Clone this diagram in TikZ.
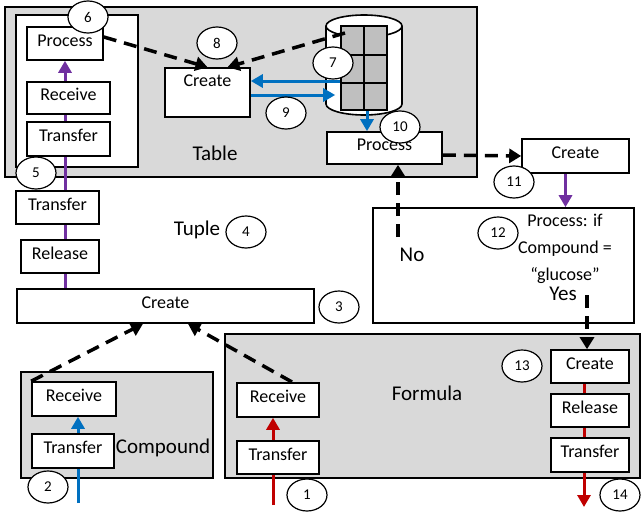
\documentclass[tikz,border=0pt]{standalone}
\usepackage{fontspec}
\setmainfont{Carlito}
\usetikzlibrary{arrows.meta,shapes.geometric}
\pgfdeclarelayer{bg}
\pgfdeclarelayer{lines}
\pgfsetlayers{bg,lines,main}
\definecolor{areagray}{HTML}{D9D9D9}
\definecolor{cellgray}{HTML}{BFBFBF}
\definecolor{flowblue}{HTML}{0070C0}
\definecolor{flowred}{HTML}{C00000}
\definecolor{flowpurple}{HTML}{7030A0}
\tikzset{
 box/.style={draw,line width=1.6pt,fill=white,inner sep=0pt,text height=12pt,text depth=7pt,font=\fontsize{18}{20}\selectfont},
 area/.style={draw,line width=1.6pt,fill=areagray},
 num/.style={draw,ellipse,fill=white,line width=1.2pt,minimum width=40pt,minimum height=32pt,inner sep=0pt,font=\fontsize{15}{15}\selectfont},
 lbl/.style={font=\fontsize{21}{21}\selectfont},
 dasharrow/.style={line width=3.5pt,dash pattern=on 13pt off 8pt,-{Triangle[length=12pt,width=14pt]}},
 flow/.style={line width=3pt,-{Triangle[length=12pt,width=13pt]}}
}
\begin{document}
\begin{tikzpicture}[x=1pt,y=-1pt]
 \useasboundingbox (0,0) rectangle (641,514);
 \begin{pgfonlayer}{bg}
 \draw[area] (5,7) rectangle (477,177);
 \draw[box] (16,15) rectangle (138,167);
 \draw[area] (21,372) rectangle (213,478);
 \draw[area] (225,334) rectangle (640,478);
 \end{pgfonlayer}
 \node[box,minimum width=76pt,minimum height=33pt] (tproc) at (65,43.5) {Process};
 \node[box,minimum width=83pt,minimum height=32pt] (trec) at (68.5,98) {Receive};
 \node[box,minimum width=83pt,minimum height=34pt] (ttra) at (68.5,139) {Transfer};
 \node[box,minimum width=85pt,text height=12pt,text depth=25pt,inner ysep=6pt] (tcre) at (207.5,92.5) {Create};
 \node[box,minimum width=115pt,minimum height=32pt] (tproc2) at (384.5,148) {Process};
 \node[lbl] (tablelbl) at (215,153) {Table};
 \draw[line width=1.6pt,fill=white] (326,26) -- (326,104) arc[start angle=180,end angle=360,x radius=38pt,y radius=11pt] -- (402,26);
 \draw[line width=1.6pt,fill=white] (364,26) ellipse[x radius=38pt,y radius=11pt];
 \node[draw,fill=cellgray,line width=1.6pt,minimum width=46pt,minimum height=84pt,inner sep=0pt] (grid) at (364,68) {};
 \draw[line width=1.2pt] (grid.north) -- (grid.south);
 \draw[line width=1.2pt] (grid.west |- 0,55) -- (grid.east |- 0,55);
 \draw[line width=1.2pt] (grid.west |- 0,83) -- (grid.east |- 0,83);
 \node[box,minimum width=107pt,minimum height=34pt] (c11) at (575.5,156) {Create};
 \node[box,minimum width=261pt,minimum height=115pt] (dec) at (503.5,265.5) {};
 \node[font=\fontsize{18}{27}\selectfont,align=center] (dectext) at (565,249) {Process: if\\Compound =\\“glucose”};
 \node[lbl] (nolbl) at (412,255) {No};
 \node[lbl] (yeslbl) at (563,294) {Yes};
 \node[box,minimum width=83pt,minimum height=33pt] (utra) at (57.5,207.5) {Transfer};
 \node[box,minimum width=78pt,minimum height=33pt] (urel) at (60,256.5) {Release};
 \node[box,minimum width=297pt,minimum height=34pt] (ucre) at (165.5,306) {Create};
 \node[lbl] (tuplelbl) at (197,230) {Tuple};
 \node[box,minimum width=84pt,minimum height=34pt] (crec) at (74,399) {Receive};
 \node[box,minimum width=82pt,minimum height=34pt] (ctra) at (73,451) {Transfer};
 \node[lbl] (complbl) at (163,448) {Compound};
 \node[box,minimum width=82pt,minimum height=34pt] (frec) at (278,400) {Receive};
 \node[box,minimum width=82pt,minimum height=33pt] (ftra) at (278,457.5) {Transfer};
 \node[box,minimum width=78pt,minimum height=33pt] (fcre) at (590,366.5) {Create};
 \node[box,minimum width=78pt,minimum height=33pt] (frel) at (590,410.5) {Release};
 \node[box,minimum width=78pt,minimum height=34pt] (ftra2) at (590,455) {Transfer};
 \node[lbl] (formlbl) at (427,393) {Formula};
 \coordinate (in1) at (273,505);
 \coordinate (in2) at (78,503);
 \coordinate (out14) at (584,507);
 \coordinate (dbtop) at (345,33);
 \coordinate (nostart) at (398,237);
 \coordinate (yesstart) at (587,295);
 \coordinate (fstart) at (292,382);
 \begin{pgfonlayer}{lines}
 \draw[flow,flowpurple] (tproc.south |- ucre.north) -- (tproc.south);
 \draw[flow,flowblue] (in2) -- (in2 |- crec.south);
 \draw[flow,flowred] (in1) -- (in1 |- frec.south);
 \draw[flow,flowred] (out14 |- fcre.south) -- (out14);
 \end{pgfonlayer}
 \draw[flow,flowblue] ([yshift=-13pt]grid.west) -- ([yshift=11.5pt]tcre.east);
 \draw[flow,flowblue,shorten >=5pt] ([yshift=-2.5pt]tcre.east) -- ([yshift=-27pt]grid.west);
 \draw[flow,flowblue] ([xshift=3pt]grid.south) -- ([xshift=3pt]grid.south |- tproc2.north);
 \draw[flow,flowpurple] ([xshift=-10pt]c11.south) -- ([xshift=-10pt]c11.south |- dec.north);
 \draw[dasharrow] ([yshift=6.5pt]tproc.east) -- (tcre.north);
 \draw[dasharrow] (dbtop) -- ([xshift=20pt]tcre.north);
 \draw[dasharrow] ([yshift=-7pt]tproc2.east) -- (c11.west);
 \draw[dasharrow] (nostart) -- (nostart |- tproc2.south);
 \draw[dasharrow] (yesstart) -- (yesstart |- fcre.north);
 \draw[dasharrow] (crec.north west) -- ([xshift=-22.5pt]ucre.south);
 \draw[dasharrow] (fstart) -- ([xshift=22.5pt]ucre.south);
 \node[num] (n1) at (307,495) {1};
 \node[num] (n2) at (48,487) {2};
 \node[num] (n3) at (339,307) {3};
 \node[num] (n4) at (246,232) {4};
 \node[num] (n5) at (36,173) {5};
 \node[num] (n6) at (88,17) {6};
 \node[num] (n7) at (333,63) {7};
 \node[num] (n8) at (217,43) {8};
 \node[num] (n9) at (286,113) {9};
 \node[num] (n10) at (400,127) {10};
 \node[num] (n11) at (514,182) {11};
 \node[num] (n12) at (498,233) {12};
 \node[num] (n13) at (522,366) {13};
 \node[num] (n14) at (620,495) {14};
\end{tikzpicture}
\end{document}
